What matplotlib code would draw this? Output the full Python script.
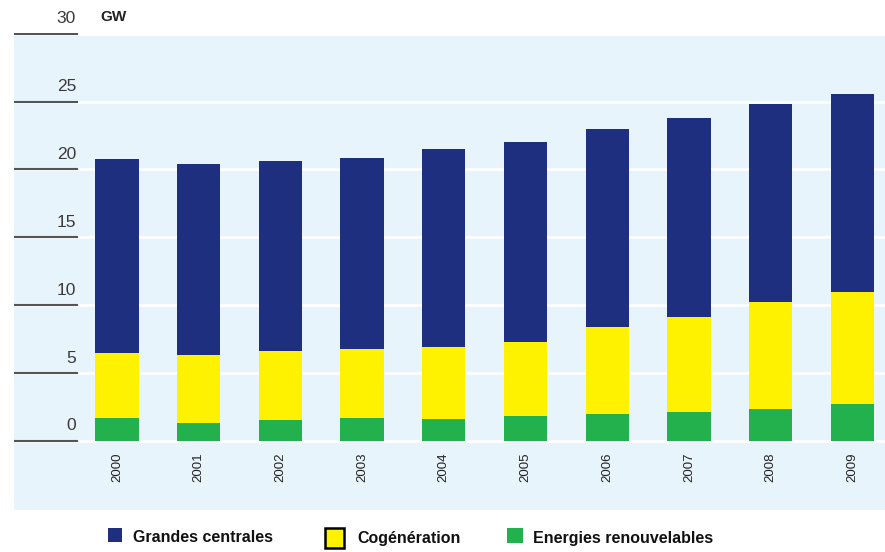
import numpy as np
import matplotlib.pyplot as plt

# Puissance installée par filière (GW)
annees = ['2000', '2001', '2002', '2003', '2004', '2005', '2006', '2007', '2008', '2009']
renouvelables = [1.67, 1.3, 1.5, 1.7, 1.6, 1.8, 2.0, 2.15, 2.35, 2.7]
cogeneration = [4.83, 5.05, 5.1, 5.1, 5.3, 5.5, 6.4, 7.0, 7.9, 8.3]
grandes_centrales = [14.3, 14.05, 14.0, 14.05, 14.6, 14.7, 14.6, 14.65, 14.55, 14.6]
yticks = [0, 5, 10, 15, 20, 25, 30]

bleu = '#1f2f80'
jaune = '#fff200'
vert = '#22b14c'
fond = '#e8f4fc'

plt.rcParams['font.family'] = ['Liberation Sans', 'DejaVu Sans']

fig = plt.figure(figsize=(8.85, 5.52), dpi=100)
ax = fig.add_axes([14 / 885, 42 / 552, 871 / 885, 477 / 552])
ax.set_facecolor(fond)

x = np.arange(len(annees))
w = 0.53
ren = np.array(renouvelables)
cog = np.array(cogeneration)
gc = np.array(grandes_centrales)

ax.bar(x, ren, w, color=vert, zorder=3)
ax.bar(x, cog, w, bottom=ren, color=jaune, zorder=3)
ax.bar(x, gc, w, bottom=ren + cog, color=bleu, zorder=3)

ax.set_xlim(-1.26, 9.4)
ax.set_ylim(-5.1, 30.06)

# lignes de grille blanches + petits traits gris à gauche
for t in yticks:
    ax.axhline(t, color='white', lw=2, zorder=1)
    ax.axhline(t, xmin=0, xmax=63 / 871, color='#555555', lw=1.5, zorder=2)
    ax.text(-0.5, t + 0.55, str(t), ha='right', va='bottom', fontsize=12.5,
            color='#3a3a3a')

for s in ax.spines.values():
    s.set_visible(False)
ax.set_yticks([])
ax.set_xticks([])
for xi, a in zip(x, annees):
    ax.text(xi, -0.85, a, rotation=90, ha='center', va='top', fontsize=9.5, color='#222222')

fig.text(100 / 885, 1 - 17 / 552, 'GW', ha='left', va='center', fontsize=11,
         fontweight='bold', color='#222222')

# légende
items = [(bleu, 'none', 108, 528, 14, 14, 133, 'Grandes centrales'),
         (jaune, 'black', 325, 528, 19, 20, 357, 'Cogénération'),
         (vert, 'none', 507, 528, 16, 15, 533, 'Energies renouvelables')]
for col, ec, xs, ys, ws, hs, xt, lab in items:
    fig.patches.append(plt.Rectangle((xs / 885, 1 - (ys + hs) / 552), ws / 885, hs / 552,
                                     transform=fig.transFigure, facecolor=col,
                                     edgecolor=ec, lw=1.8))
    fig.text(xt / 885, 1 - 538 / 552, lab, ha='left', va='center', fontsize=11.5,
             fontweight='bold', color='#111111')

fig.savefig('out.png', dpi=100)
